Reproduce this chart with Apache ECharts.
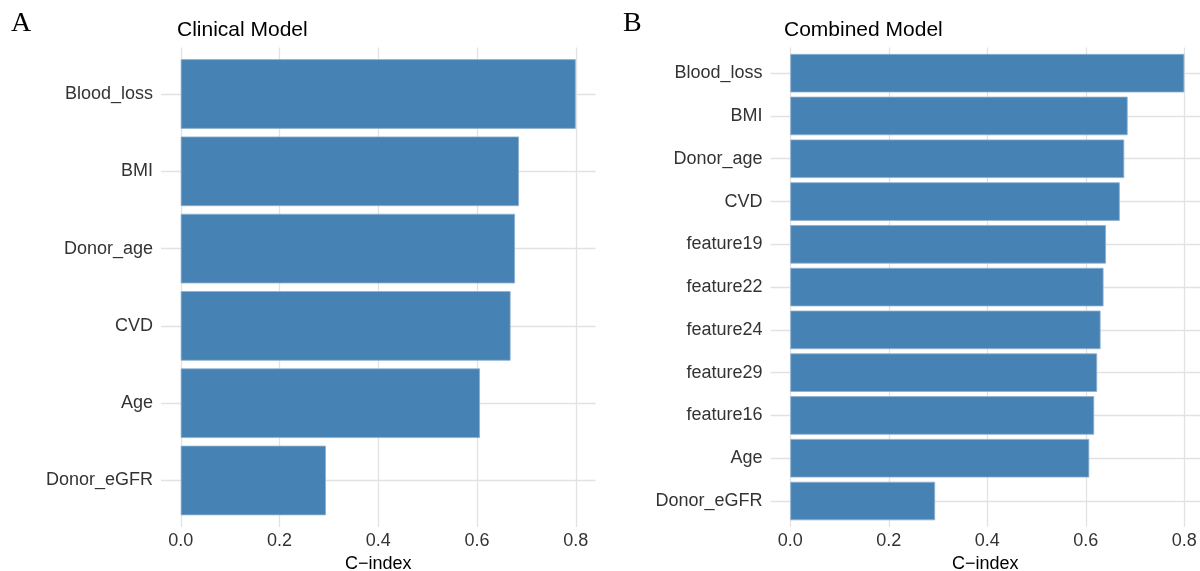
<!DOCTYPE html>
<html>
<head>
<meta charset="utf-8">
<script src="https://cdn.jsdelivr.net/npm/echarts@6/dist/echarts.min.js"></script>
<style>
html,body{margin:0;padding:0;background:#fff;}
#chart{width:1200px;height:571px;}
</style>
</head>
<body>
<div id="chart"></div>
<script>
// Data
const clinicalCategories = ["Blood_loss", "BMI", "Donor_age", "CVD", "Age", "Donor_eGFR"];
const clinicalValues = [0.800, 0.685, 0.677, 0.668, 0.606, 0.294];
const combinedCategories = ["Blood_loss", "BMI", "Donor_age", "CVD", "feature19", "feature22", "feature24", "feature29", "feature16", "Age", "Donor_eGFR"];
const combinedValues = [0.800, 0.685, 0.678, 0.669, 0.641, 0.636, 0.630, 0.623, 0.617, 0.607, 0.294];
const xTicks = [0, 0.2, 0.4, 0.6, 0.8];
const panelTitles = ["Clinical Model", "Combined Model"];
const panelTags = ["A", "B"];
const xAxisTitle = "C\u2212index";

const chart = echarts.init(document.getElementById('chart'));
const FONT = 'Liberation Sans, Arial, sans-serif';
const SERIF = 'Liberation Serif, Times New Roman, serif';
const GRID_COLOR = '#e2e2e2';
const BAR_COLOR = '#4682B4';
const LABEL_COLOR = '#333333';

function rangeIdx(n){ const a=[]; for(let i=1;i<=n;i++) a.push(i); return a; }

// panel geometry (right panel is cut by the page edge, as in the reference)
const panels = [
  {left:161, width:434.5, xmax:0.84, outerTop:47.6, outerH:479.3, innerTop:55.35, innerH:463.8, cats:clinicalCategories, vals:clinicalValues},
  {left:770.6, width:429.4, xmax:0.8319, outerTop:47.5, outerH:479.2, innerTop:51.8, innerH:470.6, cats:combinedCategories, vals:combinedValues}
];

const grids=[], xAxes=[], yAxes=[], series=[];
panels.forEach((p, k) => {
  grids.push({left:p.left, width:p.width, top:p.outerTop, height:p.outerH, outerBoundsMode:'none', containLabel:false});
  grids.push({left:p.left, width:p.width, top:p.innerTop, height:p.innerH, outerBoundsMode:'none', containLabel:false});
  const go = 2*k, gi = 2*k+1;
  xAxes.push({
    type:'value', gridIndex:go, min:-0.04, max:p.xmax,
    axisLine:{show:false},
    axisTick:{show:false, customValues:xTicks},
    axisLabel:{customValues:xTicks, fontSize:18, color:LABEL_COLOR, fontFamily:FONT, margin:5,
      formatter:v=>v.toFixed(1)},
    splitLine:{show:true, lineStyle:{color:GRID_COLOR, width:1.3}},
    name:xAxisTitle, nameLocation:'middle', nameGap:25.5,
    nameTextStyle:{fontSize:18, color:'#000', fontFamily:FONT}
  });
  xAxes.push({
    type:'value', gridIndex:gi, min:-0.04, max:p.xmax, show:false
  });
  yAxes.push({
    type:'value', gridIndex:go, min:0.4, max:p.cats.length+0.6,
    axisLine:{show:false}, axisLabel:{show:false},
    axisTick:{show:false, customValues:rangeIdx(p.cats.length)},
    splitLine:{show:true, lineStyle:{color:GRID_COLOR, width:1.3}}
  });
  yAxes.push({
    type:'category', gridIndex:gi, data:p.cats, inverse:true,
    axisLine:{show:false}, axisTick:{show:false},
    axisLabel:{fontSize:18, color:LABEL_COLOR, fontFamily:FONT, margin:8},
    splitLine:{show:false}
  });
  series.push({
    type:'bar', xAxisIndex:gi, yAxisIndex:gi, data:p.vals,
    barCategoryGap:'10%',
    itemStyle:{color:BAR_COLOR, borderColor:'#8fb0cf', borderWidth:0.8},
    silent:true
  });
});

chart.setOption({
  animation:false,
  backgroundColor:'#fff',
  title:[
    {text:panelTags[0], left:11, top:10, padding:0, textStyle:{fontFamily:SERIF, fontSize:28, fontWeight:'normal', color:'#000'}},
    {text:panelTitles[0], left:177, top:20, padding:0, textStyle:{fontFamily:FONT, fontSize:21, fontWeight:'normal', color:'#000'}},
    {text:panelTags[1], left:623, top:10, padding:0, textStyle:{fontFamily:SERIF, fontSize:28, fontWeight:'normal', color:'#000'}},
    {text:panelTitles[1], left:784, top:20, padding:0, textStyle:{fontFamily:FONT, fontSize:21, fontWeight:'normal', color:'#000'}}
  ],
  grid:grids, xAxis:xAxes, yAxis:yAxes, series:series
});
</script>
</body>
</html>
